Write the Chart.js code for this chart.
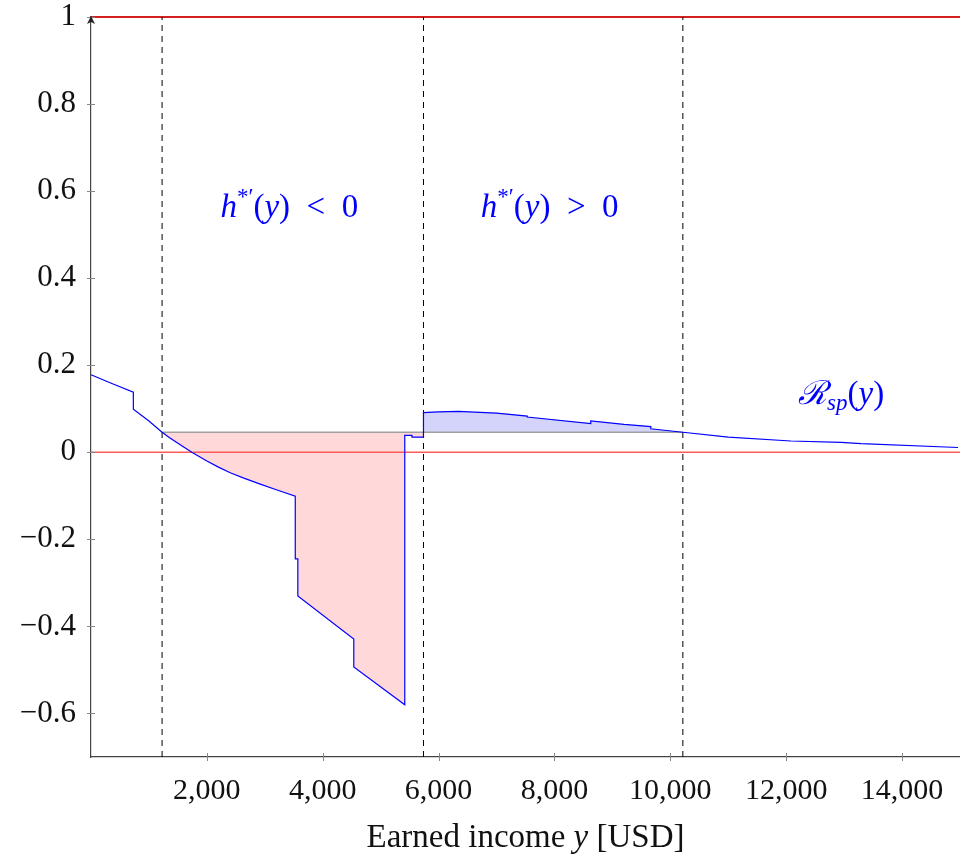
<!DOCTYPE html>
<html>
<head>
<meta charset="utf-8">
<script src="https://cdn.jsdelivr.net/npm/chart.js@4.4.0/dist/chart.umd.min.js"></script>
<style>html,body{margin:0;padding:0;background:#fff}</style>
</head>
<body>
<canvas id="chart" width="960" height="857"></canvas>
<script>
// earned income (USD) and the ratio R_sp(y); repeated x values are the jumps
const incomeX = [0, 360, 731, 731, 1000, 1227, 1350, 1600, 1740, 2000, 2200, 2403, 2650, 2921, 3200, 3526, 3526, 3570, 3570,
  4536, 4536, 5416, 5416, 5540, 5540, 5739, 5739, 6000, 6345, 7000, 7530, 7530, 8626, 8626,
  9200, 9663, 9663, 10216, 11000, 12083, 12948, 13293, 14965];
const ratioY = [0.178, 0.158, 0.138, 0.099, 0.072, 0.046, 0.034, 0.012, 0.000, -0.020, -0.034, -0.047, -0.060, -0.073, -0.086, -0.101, -0.245, -0.245, -0.330,
  -0.429, -0.493, -0.580, 0.039, 0.039, 0.035, 0.035, 0.091, 0.093, 0.094, 0.090, 0.083, 0.081, 0.066, 0.072,
  0.064, 0.059, 0.054, 0.046, 0.035, 0.026, 0.023, 0.020, 0.011];

const xTicks = [2000, 4000, 6000, 8000, 10000, 12000, 14000];
const yTicks = [-0.6, -0.4, -0.2, 0, 0.2, 0.4, 0.6, 0.8, 1];
const cutoffs = [1227, 5739, 10216];
const baseLevel = 0.046;

// text labels placed in data coordinates (baseline)
const labelX = [3423, 7917, 12948];
const labelY = [0.541, 0.541, 0.110];

const xMin = 0, xMax = 15000, yMin = -0.7, yMax = 1;
const serif = '"Liberation Serif", "DejaVu Serif", serif';

const curve = incomeX.map((x, i) => ({ x: x, y: ratioY[i] }));
const between = curve.filter(p => p.x >= cutoffs[0] && p.x <= cutoffs[2]);

const mathLabels = [
  [{ t: 'h', f: 'italic 33px ' + serif }, { t: '*\u2032', f: '23px ' + serif, dy: -13 },
   { t: '(', f: '33px ' + serif }, { t: 'y', f: 'italic 33px ' + serif }, { t: ')\u2002<\u20020', f: '33px ' + serif }],
  [{ t: 'h', f: 'italic 33px ' + serif }, { t: '*\u2032', f: '23px ' + serif, dy: -13 },
   { t: '(', f: '33px ' + serif }, { t: 'y', f: 'italic 33px ' + serif }, { t: ')\u2002>\u20020', f: '33px ' + serif }],
  [{ t: '\u211B', f: 'italic 33px ' + serif }, { t: 'sp', f: 'italic 23px ' + serif, dy: 6 },
   { t: '(', f: '33px ' + serif }, { t: 'y', f: 'italic 33px ' + serif }, { t: ')', f: '33px ' + serif }]
];
const xTitle = [{ t: 'Earned income ', f: '33px ' + serif }, { t: 'y', f: 'italic 33px ' + serif },
  { t: ' [USD]', f: '33px ' + serif }];

function drawRuns(ctx, runs, cx, baseY, color) {
  let w = 0;
  runs.forEach(r => { ctx.font = r.f; w += ctx.measureText(r.t).width; });
  let x = cx - w / 2;
  ctx.fillStyle = color;
  ctx.textAlign = 'left';
  ctx.textBaseline = 'alphabetic';
  runs.forEach(r => {
    ctx.font = r.f;
    ctx.fillText(r.t, x, baseY + (r.dy || 0));
    x += ctx.measureText(r.t).width;
  });
}

const extras = {
  id: 'extras',
  afterDraw(chart) {
    const ctx = chart.ctx, xs = chart.scales.x, ys = chart.scales.y, a = chart.chartArea;
    ctx.save();
    // tick marks crossing the axis lines
    ctx.strokeStyle = '#888';
    ctx.lineWidth = 1;
    xTicks.forEach(v => {
      const px = Math.round(xs.getPixelForValue(v)) + 0.5;
      ctx.beginPath(); ctx.moveTo(px, a.bottom - 4); ctx.lineTo(px, a.bottom + 4); ctx.stroke();
    });
    yTicks.forEach(v => {
      const py = Math.round(ys.getPixelForValue(v)) + 0.5;
      ctx.beginPath(); ctx.moveTo(a.left - 4, py); ctx.lineTo(a.left + 4, py); ctx.stroke();
    });
    // arrow head on the vertical axis
    ctx.fillStyle = '#222';
    ctx.beginPath();
    ctx.moveTo(a.left, a.top - 1);
    ctx.lineTo(a.left - 4, a.top + 7);
    ctx.lineTo(a.left, a.top + 5);
    ctx.lineTo(a.left + 4, a.top + 7);
    ctx.closePath();
    ctx.fill();
    // labels
    mathLabels.forEach((runs, i) => {
      drawRuns(ctx, runs, xs.getPixelForValue(labelX[i]), ys.getPixelForValue(labelY[i]), '#0000ff');
    });
    drawRuns(ctx, xTitle, (a.left + a.right) / 2, 847, '#111');
    ctx.restore();
  }
};

const lineSet = (data, color, width, dash, order) => ({
  data: data, borderColor: color, borderWidth: width, borderDash: dash || [],
  fill: false, pointRadius: 0, tension: 0, clip: false, order: order
});

const datasets = [
  lineSet(curve, '#0000ff', 1.2, null, 0),
  ...cutoffs.map(c => lineSet([{ x: c, y: yMin }, { x: c, y: yMax }], '#000', 1, [6, 5], 2)),
  lineSet([{ x: xMin, y: 0 }, { x: xMax, y: 0 }], '#ff5a5a', 1.6, null, 3),
  lineSet([{ x: cutoffs[0], y: baseLevel }, { x: cutoffs[2], y: baseLevel }], '#a0a0a0', 1.6, null, 4),
  lineSet([{ x: xMin, y: yMax }, { x: xMax, y: yMax }], '#d42020', 2, null, 5),
  {
    data: between, borderWidth: 0, borderColor: 'rgba(0,0,0,0)', pointRadius: 0, tension: 0, order: 10,
    fill: { target: { value: baseLevel }, above: 'rgb(212,212,250)', below: 'rgb(255,216,218)' }
  }
];

new Chart(document.getElementById('chart'), {
  type: 'line',
  data: { datasets: datasets },
  options: {
    responsive: false,
    animation: false,
    layout: { padding: { top: 17, right: 0, left: 0, bottom: 0 } },
    plugins: { legend: { display: false }, tooltip: { enabled: false } },
    scales: {
      x: {
        type: 'linear', min: xMin, max: xMax,
        afterBuildTicks: s => { s.ticks = xTicks.map(v => ({ value: v })); },
        afterFit: s => { s.height = 100; s.paddingLeft = 0; s.paddingRight = 0; },
        grid: { drawOnChartArea: false, drawTicks: false },
        border: { color: '#444', width: 1.2 },
        ticks: {
          padding: 16, color: '#111', font: { family: serif, size: 30 }, maxRotation: 0,
          callback: v => v.toLocaleString('en-US')
        }
      },
      y: {
        type: 'linear', min: yMin, max: yMax,
        afterBuildTicks: s => { s.ticks = yTicks.map(v => ({ value: v })); },
        afterFit: s => { s.width = 91; s.paddingTop = 0; s.paddingBottom = 0; },
        grid: { drawOnChartArea: false, drawTicks: false },
        border: { color: '#444', width: 1.2 },
        ticks: {
          padding: 15, color: '#111', font: { family: serif, size: 31 },
          callback: v => (v < 0 ? '\u2212' + Math.abs(v) : String(v))
        }
      }
    }
  },
  plugins: [extras]
});
</script>
</body>
</html>
